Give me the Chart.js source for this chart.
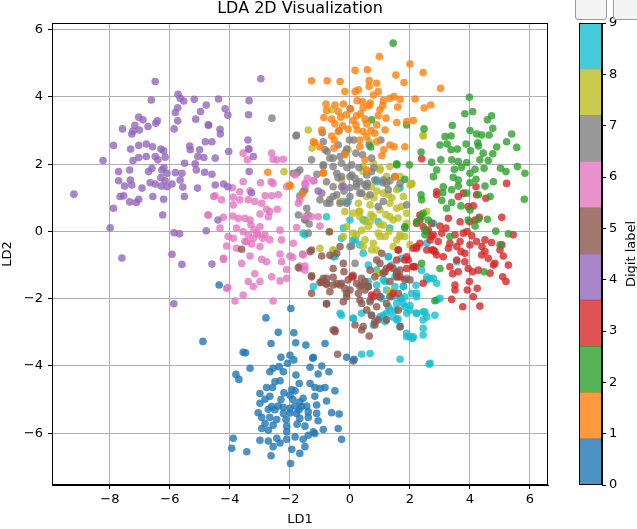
<!DOCTYPE html>
<html>
<head>
<meta charset="utf-8">
<script src="https://cdn.jsdelivr.net/npm/chart.js@4/dist/chart.umd.min.js"></script>
<style>
  body { margin: 0; background: #fff; }
  #wrap { position: relative; width: 637px; height: 529px; overflow: hidden; }
  #scatter { position: absolute; left: 0; top: 0; }
  #cbar { position: absolute; left: 560px; top: 0; }
  .btn { position: absolute; top: -6px; height: 24px; border: 1px solid #9a9a9a; border-radius: 3px; background: #f4f4f4; }
</style>
</head>
<body>
<div id="wrap">
  <canvas id="scatter" width="637" height="529"></canvas>
  <canvas id="cbar" width="77" height="529"></canvas>
  <div class="btn" style="left:575px;width:30px"></div>
  <div class="btn" style="left:613px;width:30px"></div>
</div>
<script>
// LDA projection of the digits data
const digit0 = [[-1.97,-2.29],[-2.8,-2.57],[-2.39,-3.0],[-1.87,-3.01],[-2.63,-3.33],[-1.81,-3.31],[-1.47,-3.38],[-0.83,-3.33],[-3.56,-3.59],[-3.48,-3.61],[-2.3,-3.74],[-2.0,-3.68],[-1.87,-3.82],[-1.22,-3.74],[-2.08,-3.92],[-3.33,-4.07],[-2.56,-4.07],[-2.36,-4.02],[-2.67,-4.17],[-2.22,-4.17],[-1.33,-4.04],[-0.94,-4.0],[-3.8,-4.25],[-3.7,-4.4],[-1.8,-4.27],[-1.06,-4.24],[-0.7,-4.17],[-2.5,-4.47],[-2.33,-4.44],[-1.69,-4.52],[-1.33,-4.52],[-2.78,-4.64],[-2.58,-4.64],[-1.94,-4.7],[-1.83,-4.74],[-1.17,-4.64],[-1.0,-4.67],[-0.83,-4.64],[-0.5,-4.74],[-3.0,-4.82],[-2.67,-4.9],[-2.0,-4.87],[-1.56,-4.96],[-1.17,-4.9],[-2.83,-4.99],[-1.67,-5.07],[-0.78,-5.04],[-3.0,-5.11],[-2.61,-5.21],[-2.39,-5.19],[-2.22,-5.23],[-2.0,-5.26],[-1.83,-5.19],[-1.61,-5.21],[-1.44,-5.19],[-1.11,-5.16],[-2.72,-5.29],[-3.06,-5.39],[-2.22,-5.41],[-1.78,-5.41],[-1.39,-5.36],[-1.11,-5.41],[-0.61,-5.39],[-0.36,-5.43],[-2.94,-5.53],[-2.67,-5.53],[-2.44,-5.59],[-2.13,-5.59],[-1.67,-5.56],[-1.39,-5.53],[-1.06,-5.63],[-2.83,-5.71],[-2.56,-5.76],[-2.11,-5.79],[-1.76,-5.73],[-1.5,-5.79],[-2.94,-5.86],[-2.72,-5.91],[-2.11,-5.96],[-1.22,-5.96],[-0.89,-5.89],[-0.39,-5.86],[-3.89,-6.15],[-3.0,-6.21],[-2.72,-6.23],[-2.44,-6.15],[-2.33,-6.29],[-2.11,-6.18],[-1.83,-6.11],[-1.56,-6.18],[-1.39,-6.06],[-1.17,-6.01],[-0.28,-6.18],[-3.94,-6.45],[-3.44,-6.55],[-2.56,-6.4],[-1.94,-6.48],[-1.5,-6.4],[-2.63,-6.67],[-1.67,-6.6],[-1.98,-6.9],[-4.36,-1.59],[-4.9,-3.27],[-1.24,-3.77],[-0.11,-3.74],[0.14,-3.8],[-2.3,-5.0],[-2.0,-5.4],[-1.9,-5.0],[-2.2,-4.8],[-2.5,-5.3],[-1.7,-5.3]];
const digit1 = [[0.98,5.2],[2.0,4.98],[0.17,4.79],[0.58,4.81],[2.44,4.73],[-1.28,4.48],[-0.76,4.48],[-0.33,4.46],[0.64,4.49],[0.89,4.41],[1.53,4.65],[1.8,4.43],[3.02,4.26],[-0.17,4.16],[0.17,4.16],[0.28,4.21],[0.64,4.31],[0.78,4.06],[0.94,4.16],[1.47,4.01],[2.17,3.94],[-0.8,3.79],[-0.5,3.76],[-0.22,3.79],[0.24,3.89],[0.42,3.86],[0.67,3.82],[1.11,3.89],[1.33,3.96],[1.67,3.93],[2.47,3.67],[2.69,3.76],[-0.78,3.6],[-0.39,3.57],[0.02,3.64],[0.44,3.67],[0.64,3.74],[1.0,3.62],[1.09,3.74],[1.59,3.7],[-0.87,3.39],[-0.61,3.34],[-0.31,3.4],[-0.13,3.47],[0.22,3.44],[0.5,3.34],[0.94,3.44],[1.2,3.37],[1.56,3.24],[1.89,3.27],[2.11,3.3],[-0.5,3.2],[-0.24,3.14],[0.2,3.17],[0.56,3.2],[0.89,3.17],[-0.94,3.02],[-0.61,2.84],[-0.39,2.97],[-0.06,3.04],[0.24,3.02],[0.44,2.97],[0.83,2.92],[1.17,3.02],[-1.22,2.67],[-1.0,2.51],[-0.52,2.72],[0.33,2.72],[0.56,2.82],[0.89,2.67],[1.33,2.57],[-0.53,2.48],[0.33,2.52],[1.13,2.43],[1.47,2.52],[1.83,2.52],[-0.89,1.73],[-0.17,2.28],[0.5,2.13],[1.06,2.25],[1.5,1.63],[0.56,1.83],[-2.02,1.38],[-2.74,1.76],[-1.98,1.35],[-1.58,1.12],[-0.89,1.75],[-1.17,2.64],[0.1,3.3],[0.7,3.0],[0.35,3.5]];
const digit2 = [[3.98,3.99],[3.83,3.5],[4.09,3.57],[4.58,3.32],[4.72,3.44],[3.41,3.15],[2.47,3.05],[4.0,3.0],[4.76,3.07],[3.17,2.82],[3.37,2.84],[4.22,2.9],[4.39,2.87],[4.64,2.87],[5.39,2.9],[3.0,2.57],[3.24,2.6],[3.87,2.6],[4.26,2.64],[5.22,2.67],[4.89,2.51],[5.56,2.5],[2.37,2.36],[3.37,2.43],[3.58,2.45],[4.02,2.4],[4.28,2.54],[4.44,2.33],[4.76,2.31],[2.72,2.06],[3.03,2.13],[3.39,2.13],[3.61,2.08],[3.89,2.05],[4.33,2.13],[4.61,2.11],[2.89,1.83],[3.48,1.85],[3.72,1.91],[4.17,1.85],[4.47,1.88],[5.02,1.88],[5.2,1.78],[5.58,1.93],[5.83,1.73],[1.83,1.55],[2.78,1.63],[3.44,1.61],[3.61,1.53],[4.0,1.73],[4.2,1.55],[4.78,1.48],[3.11,1.33],[3.39,1.24],[3.61,1.35],[4.0,1.45],[4.5,1.35],[2.37,1.09],[3.09,1.15],[3.89,1.14],[4.28,1.09],[4.67,1.04],[3.06,0.92],[3.39,0.86],[3.7,0.76],[5.81,0.96],[3.22,0.69],[4.0,0.64],[2.61,0.34],[4.28,0.36],[4.58,0.36],[3.94,0.34],[4.17,0.16],[4.86,0.01],[5.28,-0.07],[5.0,-0.4],[3.33,-0.15],[2.39,0.44],[2.5,-0.1],[3.0,-1.1],[4.47,-1.2],[2.83,-2.06],[1.83,0.14],[1.44,5.6],[0.72,3.32],[1.89,3.17],[0.69,2.51],[1.56,1.98],[1.98,1.98],[1.56,2.01],[2.39,0.94],[2.22,0.29],[2.5,0.04],[1.83,0.1],[2.39,-0.95],[2.44,0.54]];
const digit3 = [[4.2,1.33],[5.22,1.43],[2.89,1.09],[3.61,1.04],[3.78,1.14],[4.22,1.09],[4.53,0.99],[2.33,0.34],[3.28,0.39],[3.67,0.29],[3.98,0.29],[4.17,0.34],[5.06,0.42],[2.56,-0.01],[2.78,-0.1],[3.06,-0.05],[3.5,-0.1],[3.78,-0.05],[4.06,-0.13],[4.72,-0.33],[5.44,-0.1],[2.33,-0.35],[2.94,-0.3],[3.33,-0.35],[3.67,-0.3],[4.22,-0.3],[4.5,-0.25],[5.06,-0.4],[1.61,-0.55],[2.11,-0.5],[2.78,-0.55],[2.89,-0.7],[3.11,-0.75],[3.28,-0.5],[3.56,-0.45],[3.83,-0.65],[4.39,-0.7],[4.61,-0.8],[4.83,-0.95],[5.11,-0.73],[5.28,-1.0],[3.33,-1.05],[3.61,-1.2],[3.94,-1.1],[4.28,-1.15],[4.67,-1.24],[3.56,-0.85],[3.98,-1.49],[3.5,-1.59],[3.5,-1.74],[3.91,-1.74],[4.24,-1.69],[5.09,-1.35],[5.2,-1.49],[3.39,-2.02],[3.76,-2.24],[4.11,-1.94],[4.33,-2.22],[2.44,0.14],[1.83,-0.85],[1.56,-0.85],[2.39,2.16],[3.94,0.74],[4.11,0.76],[4.31,0.42],[3.0,0.16],[2.72,-0.15],[2.83,-0.6],[4.5,-0.6],[5.0,-0.55],[3.83,-0.9],[4.78,-1.0],[3.42,-1.26],[4.09,-1.2],[2.89,1.18],[2.33,0.49],[2.67,-0.25],[2.56,-0.55],[2.22,-0.45],[1.94,-0.85],[1.33,-1.05],[1.89,-1.1],[2.44,-1.54],[0.78,-1.94],[1.44,-1.84],[2.11,-1.05],[3.2,0.1],[3.9,0.0],[4.4,-0.45],[4.0,-0.4],[3.7,-0.6],[1.89,-0.75],[2.17,-1.05],[2.22,-0.5],[2.72,-0.55],[1.67,-1.35],[0.72,-1.89],[0.06,-1.35],[2.22,0.24],[2.61,0.04]];
const digit4 = [[-6.49,4.46],[-5.73,4.08],[-6.62,3.91],[-5.66,3.96],[-5.54,3.88],[-5.19,3.93],[-4.38,3.94],[-5.74,3.68],[-4.79,3.76],[-4.16,3.65],[-4.98,3.57],[-5.82,3.54],[-4.07,3.46],[-3.36,3.89],[-3.38,3.47],[-7.04,3.4],[-6.9,3.32],[-6.42,3.29],[-6.47,3.22],[-5.74,3.29],[-5.14,3.34],[-4.71,3.16],[-7.17,3.16],[-6.73,3.12],[-7.58,3.05],[-7.02,3.02],[-7.23,2.99],[-5.86,3.05],[-4.33,3.04],[-4.32,2.9],[-7.27,2.9],[-7.88,2.56],[-7.31,2.45],[-7.04,2.56],[-6.79,2.6],[-6.58,2.52],[-6.3,2.45],[-6.21,2.4],[-5.34,2.54],[-5.32,2.43],[-5.01,2.43],[-4.82,2.67],[-4.6,2.67],[-4.04,2.38],[-3.4,2.72],[-3.38,2.45],[-8.23,2.11],[-7.23,2.11],[-7.04,2.2],[-6.79,2.23],[-6.49,2.23],[-6.4,2.13],[-6.16,2.21],[-5.07,2.23],[-4.87,2.2],[-4.49,2.18],[-5.51,2.03],[-5.16,2.01],[-7.71,1.78],[-7.34,1.83],[-6.71,1.78],[-6.6,1.88],[-6.27,1.83],[-6.1,1.73],[-5.82,1.75],[-5.6,1.73],[-5.12,1.83],[-4.84,1.76],[-4.6,1.7],[-7.71,1.51],[-7.32,1.53],[-7.51,1.35],[-7.27,1.38],[-6.93,1.29],[-6.66,1.45],[-6.49,1.41],[-6.29,1.35],[-6.16,1.51],[-6.1,1.33],[-5.93,1.41],[-5.66,1.53],[-5.57,1.32],[-5.08,1.29],[-4.49,1.38],[-4.21,1.41],[-4.07,1.33],[-9.2,1.11],[-7.66,1.04],[-7.54,1.06],[-7.04,0.96],[-7.34,0.88],[-7.12,0.86],[-6.57,1.04],[-6.21,0.96],[-5.52,1.04],[-7.88,0.69],[-6.24,0.49],[-4.4,0.34],[-7.99,0.11],[-5.86,-0.04],[-5.68,-0.07],[-4.79,0.02],[-7.6,-0.79],[-5.93,-0.68],[-5.6,-0.98],[-4.6,-0.97],[-5.87,-2.15],[-4.72,3.17],[-3.22,2.23],[-3.36,1.78],[-3.28,1.15],[-1.06,1.2],[-0.22,1.35],[-2.97,4.54],[-6.3,1.6],[-6.2,1.9]];
const digit5 = [[-0.69,-0.01],[-0.33,-0.45],[-0.44,-0.65],[-1.33,-0.6],[-0.94,-0.73],[-1.72,-1.07],[-1.28,-1.32],[-0.89,-1.39],[-0.78,-1.54],[-0.56,-1.36],[-0.33,-1.59],[-0.67,-1.79],[-1.28,-1.84],[-0.06,-1.44],[0.22,-1.54],[0.39,-1.39],[0.61,-1.64],[0.83,-1.35],[1.11,-1.24],[1.33,-1.49],[1.56,-1.35],[1.67,-1.15],[1.44,-1.1],[1.0,-0.95],[0.67,-1.15],[0.0,-1.74],[0.28,-1.84],[-0.11,-1.94],[0.39,-2.14],[0.67,-2.09],[1.0,-1.94],[1.22,-2.14],[1.33,-1.94],[1.61,-1.84],[0.72,-2.49],[0.94,-2.63],[0.83,-2.78],[0.44,-2.83],[0.17,-2.78],[-0.22,-2.09],[-0.78,-2.16],[-0.56,-2.93],[-0.5,-2.98],[0.64,-3.11],[-0.41,-3.65],[0.11,-3.85],[1.61,-2.34],[1.61,-0.55],[1.06,-0.65],[1.83,-1.44],[-1.0,-1.52],[0.39,-1.59],[0.5,-1.74],[-3.61,-0.53],[-0.67,-0.71],[-0.94,-1.5],[-0.78,-1.58],[-0.44,-1.55],[-0.17,-1.7],[1.67,-2.83],[1.22,-2.63],[2.72,0.24],[2.11,-1.05],[2.0,-1.44],[1.17,-1.2],[0.5,-1.5],[0.1,-1.3],[-0.2,-1.2],[0.9,-1.8],[-1.28,-1.35],[-0.94,-1.49],[-0.78,-1.39],[-0.56,-1.59],[-0.28,-1.54],[0.11,-1.35],[0.33,-1.64],[0.61,-1.64],[0.89,-0.85],[1.22,-1.1],[1.56,-1.24],[0.33,-2.04],[0.56,-2.34],[0.89,-2.24],[-0.11,-1.84],[-0.78,-2.14],[-0.5,-2.93],[0.39,-2.93],[0.83,-2.68],[-0.56,-1.1],[-1.28,-0.55],[-0.22,-0.95]];
const digit6 = [[-3.56,2.33],[-3.36,2.45],[-3.42,2.13],[-2.61,2.33],[-2.56,2.15],[-2.44,2.13],[-2.22,2.15],[-2.63,1.48],[-2.56,1.43],[-2.98,1.45],[-3.56,1.48],[-3.92,1.3],[-3.67,1.18],[-3.33,1.21],[-2.11,1.33],[-1.83,1.68],[-1.48,1.38],[-1.2,1.51],[-4.5,1.06],[-4.28,0.94],[-3.89,1.02],[-3.67,0.94],[-3.39,0.94],[-3.17,0.89],[-2.83,1.06],[-2.61,1.06],[-2.39,1.09],[-2.94,0.84],[-1.67,0.94],[-3.89,0.79],[-2.78,0.66],[-2.67,0.59],[-2.42,0.66],[-4.72,0.49],[-4.22,0.42],[-3.91,0.46],[-3.72,0.39],[-3.5,0.39],[-3.33,0.34],[-3.0,0.52],[-2.72,0.44],[-1.5,0.44],[-1.28,0.44],[-1.06,0.44],[-4.33,0.1],[-4.06,-0.15],[-3.78,0.1],[-3.56,-0.01],[-3.39,-0.1],[-3.22,-0.2],[-3.0,0.14],[-3.06,-0.1],[-2.83,-0.1],[-2.67,-0.25],[-2.33,0.04],[-2.28,-0.25],[-1.78,0.12],[-3.89,-0.2],[-3.44,-0.3],[-3.28,-0.37],[-3.0,-0.45],[-4.11,-0.43],[-3.78,-0.5],[-4.22,-0.8],[-3.61,-0.95],[-3.33,-0.73],[-2.94,-0.83],[-2.78,-0.9],[-2.33,-0.67],[-2.0,-0.73],[-2.28,-0.9],[-1.58,-0.67],[-1.67,-1.03],[-1.5,-1.03],[-2.11,-1.13],[-3.17,-1.26],[-2.61,-1.35],[-2.11,-1.39],[-3.39,-1.49],[-3.0,-1.49],[-3.22,-1.64],[-2.33,-1.47],[-4.11,-1.69],[-3.56,-1.89],[-3.83,-2.07],[-2.56,-2.07],[-1.42,1.58],[-4.54,1.04],[-4.73,0.49],[-4.21,-0.83],[-4.07,-1.67],[-1.5,1.43],[-1.22,1.51],[-1.72,0.84],[-1.0,0.16],[-1.56,-0.7],[-1.67,-1.1],[-1.5,-1.15],[-1.89,-0.35],[-1.91,-0.77],[-3.1,-0.05],[-3.2,0.05],[-2.9,-0.2],[-3.5,-0.3],[-3.3,0.2]];
const digit7 = [[0.0,3.65],[-0.92,2.94],[-1.8,2.84],[-0.36,3.0],[0.13,2.72],[0.64,2.57],[1.03,2.72],[-1.28,2.13],[-0.83,2.43],[-0.67,2.18],[-0.33,2.23],[-0.11,2.45],[0.2,2.33],[0.42,2.28],[0.72,2.18],[-0.89,1.95],[-0.56,1.93],[-0.28,2.03],[-0.78,1.48],[-0.28,1.63],[0.33,1.48],[0.58,1.43],[1.09,1.45],[1.33,1.51],[-1.76,1.75],[-1.78,2.87],[-1.67,1.83],[-1.89,1.73],[-0.89,2.67],[-0.76,2.38],[-0.56,1.33],[-0.44,1.09],[-0.67,0.94],[-0.33,0.84],[-1.5,1.24],[-1.67,1.06],[-1.44,0.69],[-1.72,0.49],[-1.5,0.36],[-1.36,0.22],[-1.0,0.94],[-0.02,2.72],[-0.89,1.98],[-0.56,2.18],[-0.17,2.33],[-1.56,1.18],[-0.94,1.14],[-0.67,0.84],[-0.56,1.04],[0.22,1.33],[0.33,1.14],[0.5,1.38],[0.67,1.09],[0.94,0.74],[1.11,0.89],[1.22,1.43],[1.5,1.63],[0.06,1.68],[0.83,1.53],[0.0,1.04],[0.17,1.58],[0.56,1.68],[-1.39,0.49],[-1.5,0.34],[-1.39,-0.05],[0.06,-0.43],[0.17,-0.95],[1.89,0.79],[-2.6,3.37],[-0.1,1.9],[0.3,1.9],[-0.4,1.6],[0.0,1.3],[0.8,1.9],[-1.1,1.7],[-0.2,1.2],[-0.39,2.57],[0.0,1.63],[0.22,1.43],[0.56,1.33],[0.39,1.14],[1.11,1.53],[1.28,1.24],[-0.78,0.84],[-0.28,1.33],[-0.44,1.73],[0.06,1.98],[0.72,1.78],[1.67,1.43],[-0.11,0.84],[0.0,-0.45]];
const digit8 = [[-0.06,2.43],[0.44,1.93],[0.78,2.03],[1.0,1.88],[1.33,1.93],[1.67,1.63],[2.06,1.43],[-0.33,0.89],[-0.17,0.59],[0.28,0.84],[0.67,0.79],[0.78,0.44],[1.0,0.64],[1.33,0.84],[1.56,0.69],[1.44,0.34],[1.11,0.19],[0.94,-0.05],[0.61,0.14],[0.39,0.04],[0.22,-0.1],[0.78,-0.35],[0.44,-0.45],[0.89,-0.55],[-0.56,-0.55],[-0.11,0.14],[-0.22,-0.15],[1.56,1.24],[1.78,1.04],[1.89,0.24],[1.67,-0.1],[1.56,-0.25],[1.28,1.09],[1.11,1.14],[0.56,1.04],[0.33,0.44],[0.11,0.54],[0.72,1.33],[-1.0,-0.5],[-0.28,1.53],[-0.67,-0.01],[1.39,-1.84],[0.94,-1.24],[-0.61,3.62],[-1.39,3.02],[-1.26,2.48],[0.64,2.67],[2.44,2.84],[-2.2,1.78],[2.06,1.41],[0.44,1.78],[1.0,1.83],[1.22,1.63],[2.44,2.87],[1.72,0.74],[1.89,0.54],[1.83,-0.15],[2.0,-0.4],[1.17,-0.15],[1.44,-0.45],[1.33,-1.79],[2.56,0.59],[0.8,1.0],[1.2,0.5],[0.5,0.3],[1.0,0.2],[1.3,0.0],[0.7,0.5],[1.4,1.0],[0.9,1.2],[0.3,0.6],[1.6,0.4],[0.33,0.59],[0.67,0.29],[1.0,-0.15],[0.5,-0.25],[1.33,0.44],[0.72,-0.55],[0.94,-1.24],[1.67,-0.15],[0.11,-0.05],[2.0,1.38],[-0.56,-0.55]];
const digit9 = [[-1.56,-0.05],[-0.78,0.44],[-0.22,0.1],[-0.06,0.89],[0.5,0.34],[0.94,0.29],[0.89,1.48],[0.11,-0.25],[0.44,-0.65],[1.28,-0.75],[1.72,-0.8],[2.78,0.24],[2.56,-1.35],[2.78,-1.39],[0.61,-1.49],[0.89,-1.59],[1.17,-1.49],[1.22,-1.74],[1.5,-1.64],[1.78,-1.64],[2.06,-1.84],[1.83,-1.94],[2.22,-1.94],[1.56,-2.14],[1.83,-2.24],[1.33,-2.34],[1.11,-2.49],[1.44,-2.54],[1.89,-2.43],[2.44,-2.39],[2.83,-2.49],[2.44,-2.63],[-0.33,-2.43],[0.11,-2.58],[0.39,-2.43],[0.78,-2.78],[1.17,-2.68],[1.67,-2.83],[2.0,-3.13],[2.44,-2.88],[2.44,-3.08],[2.09,-3.18],[0.67,-3.63],[0.39,-3.65],[1.67,-3.8],[2.67,-3.92],[-1.22,-1.64],[0.33,-0.4],[1.39,-1.0],[0.61,-1.0],[0.89,-1.15],[1.89,-1.39],[2.39,-1.15],[2.89,-2.04],[1.06,-1.99],[1.67,-1.99],[1.5,-1.35],[2.64,-3.95],[1.89,-3.13],[2.11,-3.13],[2.5,-2.4],[2.67,-1.4],[3.0,-1.99],[2.22,-2.43],[2.56,-2.54],[1.5,-2.34],[1.28,-2.24],[1.0,-2.54],[3.56,-0.9],[1.61,1.29],[2.56,-0.35],[-0.2,0.89],[-0.28,-0.2],[-0.5,-0.75],[0.0,0.34],[1.7,-2.0],[2.0,-2.2],[1.4,-1.9],[2.2,-1.6],[1.6,-2.6],[1.28,-0.75],[1.56,-1.2],[1.78,-1.64],[2.22,-1.84],[2.56,-1.44],[2.89,-1.54],[1.11,-1.44],[1.0,-1.94],[1.44,-1.94],[1.78,-2.14],[2.0,-2.34],[1.22,-2.43],[1.56,-2.63],[2.22,-2.43],[-0.28,-2.49],[0.11,-2.58],[0.72,-2.49],[0.67,-2.04],[-0.56,-0.75],[-1.5,-0.1],[0.44,0.34],[0.89,1.53],[1.67,1.29],[0.17,-0.25],[1.33,0.1],[1.89,-3.03],[1.61,-1.35]];

const digits = [digit0, digit1, digit2, digit3, digit4, digit5, digit6, digit7, digit8, digit9];
const digitNames = ['0', '1', '2', '3', '4', '5', '6', '7', '8', '9'];
const tab10 = ['31,119,180', '255,127,14', '44,160,44', '214,39,40', '148,103,189',
               '140,86,75', '227,119,194', '127,127,127', '188,189,34', '23,190,207'];
const xTicks = [-8, -6, -4, -2, 0, 2, 4, 6];
const yTicks = [-6, -4, -2, 0, 2, 4, 6];
const cbTicks = [0, 1, 2, 3, 4, 5, 6, 7, 8, 9];

const font = "'DejaVu Sans', sans-serif";
Chart.defaults.font.family = font;
Chart.defaults.font.size = 13;
Chart.defaults.color = '#000';

function minusLabel(v) {
  return v < 0 ? '\u2212' + Math.abs(v) : String(v);
}

const frame = {
  id: 'frame',
  afterDraw(chart) {
    const a = chart.chartArea, ctx = chart.ctx;
    ctx.save();
    ctx.strokeStyle = '#000';
    ctx.lineWidth = 1;
    ctx.strokeRect(a.left + 0.5, a.top + 0.5, a.right - a.left - 1, a.bottom - a.top - 1);
    if (chart.options.plugins.frame && chart.options.plugins.frame.title) {
      ctx.fillStyle = '#000';
      ctx.font = "16px " + font;
      ctx.textAlign = 'center';
      ctx.textBaseline = 'middle';
      ctx.fillText(chart.options.plugins.frame.title, (a.left + a.right) / 2, 9);
    }
    if (chart.options.plugins.frame && chart.options.plugins.frame.sideLabel) {
      ctx.fillStyle = '#000';
      ctx.font = "13px " + font;
      ctx.textAlign = 'center';
      ctx.textBaseline = 'middle';
      ctx.translate(chart.width - 5, (a.top + a.bottom) / 2);
      ctx.rotate(-Math.PI / 2);
      ctx.fillText(chart.options.plugins.frame.sideLabel, 0, 0);
    }
    ctx.restore();
  }
};

const scatterChart = new Chart(document.getElementById('scatter').getContext('2d'), {
  type: 'scatter',
  data: {
    datasets: digits.map((pts, i) => ({
      label: digitNames[i],
      data: pts.map(p => ({ x: p[0], y: p[1] })),
      backgroundColor: 'rgba(' + tab10[i] + ',0.8)',
      borderWidth: 0,
      pointRadius: 3.8,
      pointHoverRadius: 3.8
    }))
  },
  options: {
    responsive: false,
    animation: false,
    layout: { padding: { top: 23, right: 89, left: 0, bottom: 0 } },
    plugins: {
      legend: { display: false },
      tooltip: { enabled: false },
      frame: { title: 'LDA 2D Visualization' }
    },
    scales: {
      x: {
        type: 'linear',
        min: -9.93,
        max: 6.6,
        afterBuildTicks: s => { s.ticks = xTicks.map(v => ({ value: v })); },
        afterFit: s => { s.height = 44; },
        ticks: { callback: minusLabel, padding: 3, maxRotation: 0 },
        grid: { color: '#b0b0b0', tickColor: '#000', tickLength: 4 },
        border: { color: '#000' },
        title: { display: true, text: 'LD1', padding: { top: 0, bottom: 2 } }
      },
      y: {
        type: 'linear',
        min: -7.54,
        max: 6.2,
        afterBuildTicks: s => { s.ticks = yTicks.map(v => ({ value: v })); },
        afterFit: s => { s.width = 52; },
        ticks: { callback: minusLabel, padding: 5 },
        grid: { color: '#b0b0b0', tickColor: '#000', tickLength: 4 },
        border: { color: '#000' },
        title: { display: true, text: 'LD2', padding: { top: 0, bottom: 0 } }
      }
    }
  },
  plugins: [frame]
});

// discrete colour bar: ten equal bands over 0..9
const colorBar = new Chart(document.getElementById('cbar').getContext('2d'), {
  type: 'bar',
  data: {
    labels: [''],
    datasets: digitNames.map((d, i) => ({
      label: d,
      data: [[i * 0.9, (i + 1) * 0.9]],
      backgroundColor: 'rgba(' + tab10[i] + ',0.8)',
      borderWidth: 0,
      barPercentage: 1,
      categoryPercentage: 1,
      grouped: false
    }))
  },
  options: {
    responsive: false,
    animation: false,
    layout: { padding: { top: 23, bottom: 44, left: 19, right: 0 } },
    plugins: {
      legend: { display: false },
      tooltip: { enabled: false },
      frame: { sideLabel: 'Digit label' }
    },
    scales: {
      x: { display: false },
      y: {
        position: 'right',
        min: 0,
        max: 9,
        afterBuildTicks: s => { s.ticks = cbTicks.map(v => ({ value: v })); },
        afterFit: s => { s.width = 35; },
        ticks: { padding: 3 },
        grid: { drawOnChartArea: false, tickColor: '#000', tickLength: 4 },
        border: { color: '#000' }
      }
    }
  },
  plugins: [frame]
});
</script>
</body>
</html>
